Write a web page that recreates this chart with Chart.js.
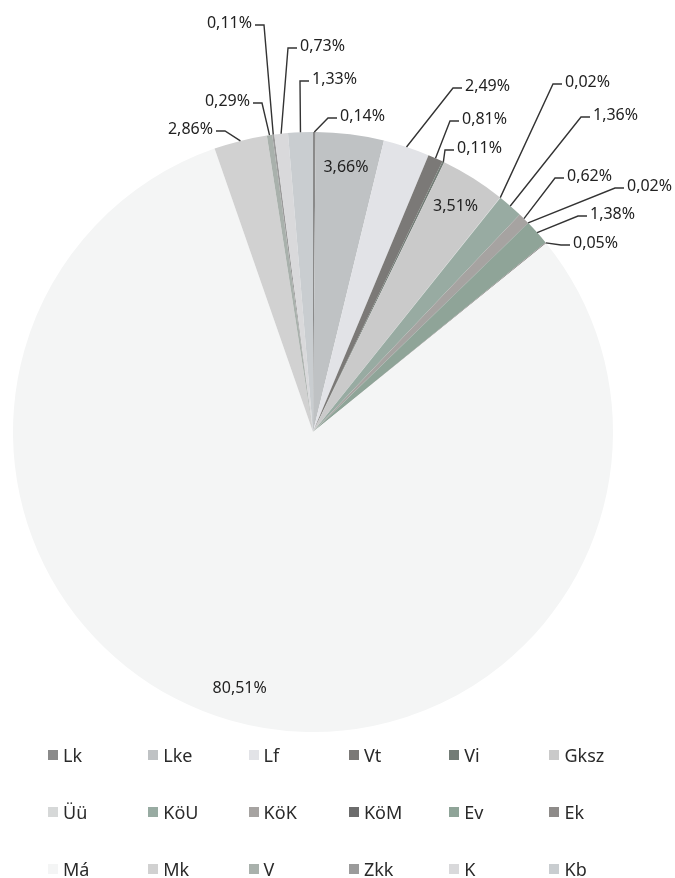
<!DOCTYPE html>
<html>
<head>
<meta charset="utf-8">
<script src="https://cdn.jsdelivr.net/npm/chart.js@4.4.1/dist/chart.umd.min.js"></script>
<style>
    html, body { margin: 0; padding: 0; background: #ffffff; }
    body { width: 675px; height: 878px; position: relative; overflow: hidden; font-family: 'Noto Sans', sans-serif; }
    #wrap { position: absolute; left: 0; top: 0; width: 675px; height: 740px; }
    #legend {
        position: absolute; left: 48px; top: 726px;
        display: grid; grid-template-columns: repeat(6, 100.3px); grid-auto-rows: 57px;
        font-size: 18px; color: #2a2a2a;
    }
    #legend .item { display: flex; align-items: center; white-space: nowrap; }
    #legend .box { width: 10px; height: 10px; margin-right: 5px; flex: none; }
</style>
</head>
<body>
<div id="wrap"><canvas id="pieChart"></canvas></div>
<div id="legend"></div>
<script>
// land use zones and their share of the area (%)
const zones = ['Lk', 'Lke', 'Lf', 'Vt', 'Vi', 'Gksz', 'Üü', 'KöU', 'KöK', 'KöM', 'Ev', 'Ek', 'Má', 'Mk', 'V', 'Zkk', 'K', 'Kb'];
const shares = [0.14, 3.66, 2.49, 0.81, 0.11, 3.51, 0.02, 1.36, 0.62, 0.02, 1.38, 0.05, 80.51, 2.86, 0.29, 0.11, 0.73, 1.33];

const sliceColors = [
    '#8a8a8a', // Lk
    '#bfc2c4', // Lke
    '#e2e3e7', // Lf
    '#7b7977', // Vt
    '#737c76', // Vi
    '#cacaca', // Gksz
    '#d6d8d8', // Üü
    '#98aba2', // KöU
    '#a6a3a1', // KöK
    '#6c6c6c', // KöM
    '#8fa498', // Ev
    '#8e8b89', // Ek
    '#f4f5f5', // Má
    '#d1d1d1', // Mk
    '#a9b1ac', // V
    '#9b9b9b', // Zkk
    '#d9d9db', // K
    '#c9cdd0'  // Kb
];

// where the outside labels sit, relative to the pie centre (null = label inside the slice)
const labelSpots = [
    { dx: 27, dy: -316, side: 'right' },
    null,
    { dx: 152, dy: -346, side: 'right' },
    { dx: 149, dy: -313, side: 'right' },
    { dx: 144, dy: -284, side: 'right' },
    null,
    { dx: 252, dy: -350, side: 'right' },
    { dx: 280, dy: -317, side: 'right' },
    { dx: 254, dy: -256, side: 'right' },
    { dx: 314, dy: -246, side: 'right' },
    { dx: 277, dy: -218, side: 'right' },
    { dx: 260, dy: -189, side: 'right' },
    null,
    { dx: -100, dy: -303, side: 'left' },
    { dx: -63, dy: -331, side: 'left' },
    { dx: -61, dy: -409, side: 'left' },
    { dx: -13, dy: -386, side: 'right' },
    { dx: -1, dy: -353, side: 'right' }
];

function fmt(v) {
    return v.toFixed(2).replace('.', ',') + '%';
}

const sliceLabels = {
    id: 'sliceLabels',
    afterDatasetsDraw(chart) {
        const ctx = chart.ctx;
        const arcs = chart.getDatasetMeta(0).data;
        ctx.save();
        ctx.font = '16px "Noto Sans"';
        ctx.fillStyle = '#222222';
        ctx.strokeStyle = '#333333';
        ctx.lineWidth = 1.4;
        ctx.textBaseline = 'middle';
        arcs.forEach((arc, i) => {
            const p = arc.getProps(['x', 'y', 'startAngle', 'endAngle', 'outerRadius'], true);
            const mid = (p.startAngle + p.endAngle) / 2;
            const text = fmt(shares[i]);
            const spot = labelSpots[i];
            if (!spot) {
                const d = p.outerRadius * 0.89;
                ctx.textAlign = 'center';
                ctx.fillText(text, p.x + Math.cos(mid) * d, p.y + Math.sin(mid) * d);
                return;
            }
            const ex = p.x + Math.cos(mid) * p.outerRadius;
            const ey = p.y + Math.sin(mid) * p.outerRadius;
            const ax = p.x + spot.dx;
            const ay = p.y + spot.dy;
            const dir = spot.side === 'right' ? -1 : 1;
            ctx.beginPath();
            ctx.moveTo(ax + dir * 3, ay + 2);
            ctx.lineTo(ax + dir * 12, ay + 2);
            ctx.lineTo(ex, ey);
            ctx.stroke();
            ctx.textAlign = spot.side === 'right' ? 'left' : 'right';
            ctx.fillText(text, ax, ay);
        });
        ctx.restore();
    }
};

const chart = new Chart(document.getElementById('pieChart').getContext('2d'), {
    type: 'pie',
    data: {
        labels: zones,
        datasets: [{
            data: shares,
            backgroundColor: sliceColors,
            borderWidth: 0
        }]
    },
    options: {
        responsive: true,
        maintainAspectRatio: false,
        animation: false,
        layout: {
            padding: { left: 13, right: 62, top: 132, bottom: 8 }
        },
        plugins: {
            legend: { display: false },
            tooltip: { enabled: false }
        }
    },
    plugins: [sliceLabels]
});

// legend in a fixed 6 column grid, built from the chart's own data
const legendBox = document.getElementById('legend');
chart.data.labels.forEach((name, i) => {
    const item = document.createElement('div');
    item.className = 'item';
    const box = document.createElement('span');
    box.className = 'box';
    box.style.background = chart.data.datasets[0].backgroundColor[i];
    const label = document.createElement('span');
    label.textContent = name;
    item.appendChild(box);
    item.appendChild(label);
    legendBox.appendChild(item);
});
</script>
</body>
</html>
